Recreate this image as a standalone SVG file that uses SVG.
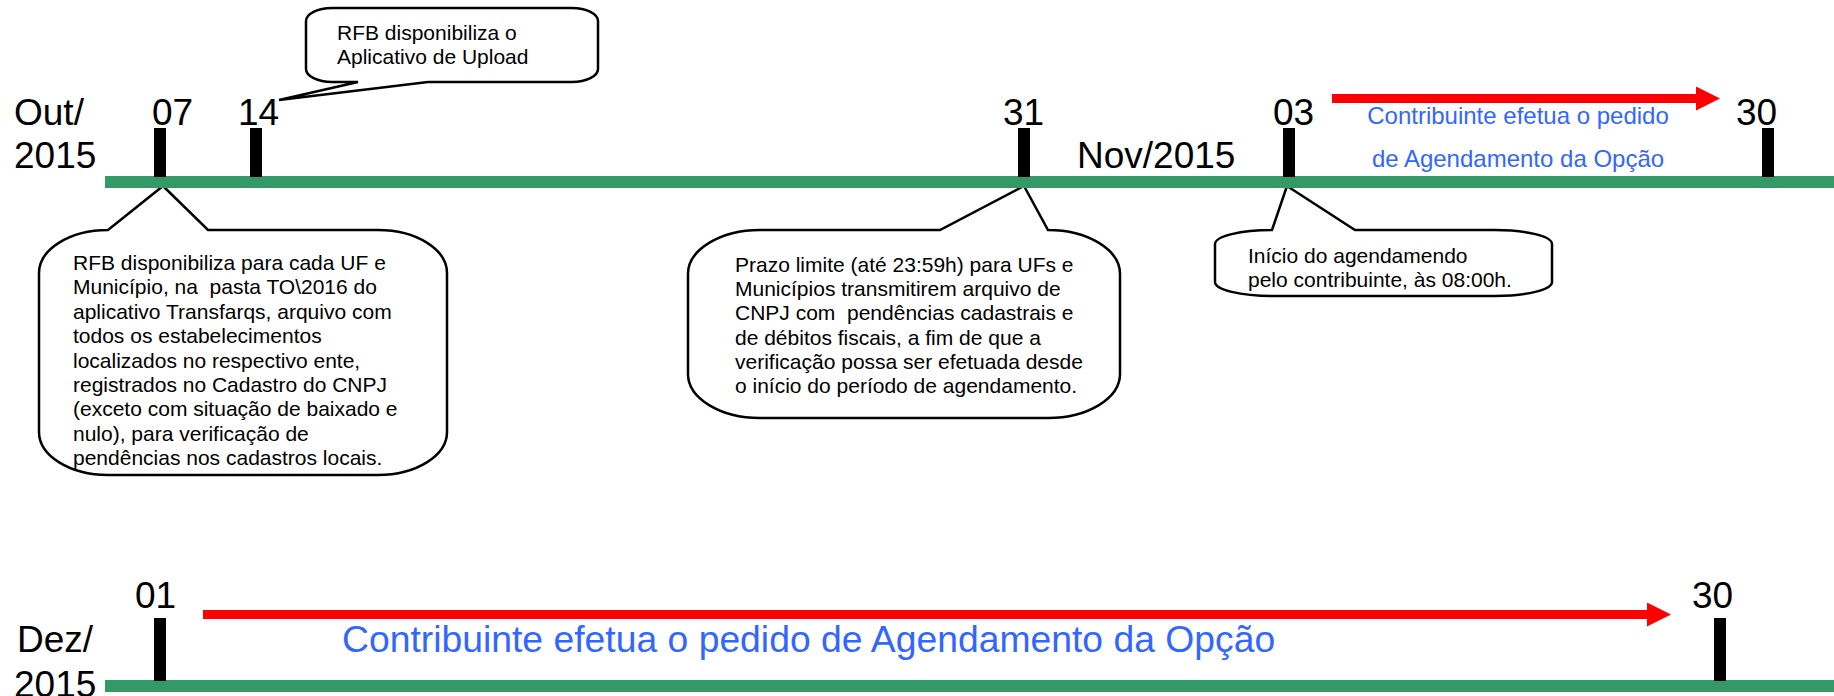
<svg xmlns="http://www.w3.org/2000/svg" width="1834" height="696" viewBox="0 0 1834 696">
<style>
.lbl{font-family:"Liberation Sans",Arial,sans-serif;font-size:37px;fill:#000}
.txt{font-family:"Liberation Sans",Arial,sans-serif;font-size:21px;fill:#000;white-space:pre}
.blue{font-family:"Liberation Sans",Arial,sans-serif;fill:#3366FF}
.bub{fill:#fff;stroke:#000;stroke-width:2.5;stroke-linejoin:miter}
.axis{fill:#339966}
.tick{fill:#000}
.arr{stroke:#FF0000;stroke-width:9;fill:none}
</style>
<defs>
<marker id="ah" markerUnits="userSpaceOnUse" markerWidth="24" markerHeight="24" refX="0" refY="12" orient="auto">
<path d="M0,0 L24,12 L0,24 Z" fill="#FF0000"/>
</marker>
</defs>
<rect width="1834" height="696" fill="#fff"/>

<g id="callout-upload">
<path class="bub" d="M279,100 L428,82 L572,82 A26,13 0 0 0 598,69 L598,21 A26,13 0 0 0 572,8 L332,8 A26,13 0 0 0 306,21 L306,69 A26,13 0 0 0 332,82 L358,82 Z"/>
<text class="txt" x="337" y="40">RFB disponibiliza o</text>
<text class="txt" x="337" y="64">Aplicativo de Upload</text>
</g>

<g id="callout-07">
<path class="bub" d="M163,186 L208,230 L378,230 A69,43 0 0 1 447,273 L447,432 A69,43 0 0 1 378,475 L108,475 A69,43 0 0 1 39,432 L39,273 A69,43 0 0 1 108,230 Z"/>
<text class="txt" x="73" y="270">RFB disponibiliza para cada UF e</text>
<text class="txt" x="73" y="294.4">Município, na  pasta TO\2016 do</text>
<text class="txt" x="73" y="318.8">aplicativo Transfarqs, arquivo com</text>
<text class="txt" x="73" y="343.2">todos os estabelecimentos</text>
<text class="txt" x="73" y="367.6">localizados no respectivo ente,</text>
<text class="txt" x="73" y="392">registrados no Cadastro do CNPJ</text>
<text class="txt" x="73" y="416.4">(exceto com situação de baixado e</text>
<text class="txt" x="73" y="440.8">nulo), para verificação de</text>
<text class="txt" x="73" y="465.2">pendências nos cadastros locais.</text>
</g>

<g id="callout-31">
<path class="bub" d="M1024,186 L1048,230 A72,44 0 0 1 1120,274 L1120,374 A72,44 0 0 1 1048,418 L760,418 A72,44 0 0 1 688,374 L688,274 A72,44 0 0 1 760,230 L940,230 Z"/>
<text class="txt" x="735" y="272">Prazo limite (até 23:59h) para UFs e</text>
<text class="txt" x="735" y="296.2">Municípios transmitirem arquivo de</text>
<text class="txt" x="735" y="320.4">CNPJ com  pendências cadastrais e</text>
<text class="txt" x="735" y="344.6">de débitos fiscais, a fim de que a</text>
<text class="txt" x="735" y="368.8">verificação possa ser efetuada desde</text>
<text class="txt" x="735" y="393">o início do período de agendamento.</text>
</g>

<g id="callout-03">
<path class="bub" d="M1287,186 L1355,230 L1495,230 A57,14 0 0 1 1552,244 L1552,282 A57,14 0 0 1 1495,296 L1272,296 A57,14 0 0 1 1215,282 L1215,244 A57,14 0 0 1 1272,230 Z"/>
<text class="txt" x="1248" y="263">Início do agendamendo</text>
<text class="txt" x="1248" y="287">pelo contribuinte, às 08:00h.</text>
</g>

<g id="timeline-nov">
<rect class="axis" x="105" y="176" width="1729" height="12"/>
<rect class="tick" x="154" y="128" width="12" height="49"/>
<rect class="tick" x="250" y="128" width="12" height="49"/>
<rect class="tick" x="1018" y="128" width="12" height="49"/>
<rect class="tick" x="1283" y="128" width="12" height="49"/>
<rect class="tick" x="1762" y="128" width="12" height="49"/>
<text class="lbl" x="14" y="125">Out/</text>
<text class="lbl" x="14" y="168">2015</text>
<text class="lbl" x="152" y="125">07</text>
<text class="lbl" x="238" y="125">14</text>
<text class="lbl" x="1003" y="125">31</text>
<text class="lbl" x="1273" y="125">03</text>
<text class="lbl" x="1077" y="168">Nov/2015</text>
<text class="lbl" x="1736" y="125">30</text>
<text class="blue" x="1518" y="124" font-size="24" text-anchor="middle">Contribuinte efetua o pedido</text>
<text class="blue" x="1518" y="167" font-size="24" text-anchor="middle">de Agendamento da Opção</text>
</g>

<g id="timeline-dez">
<rect class="axis" x="105" y="680" width="1729" height="12"/>
<rect class="tick" x="154" y="618" width="12" height="63"/>
<rect class="tick" x="1714" y="618" width="12" height="63"/>
<text class="lbl" x="17" y="652">Dez/</text>
<text class="lbl" x="14" y="697">2015</text>
<text class="lbl" x="135" y="608">01</text>
<text class="lbl" x="1692" y="608">30</text>
<text class="blue" x="342" y="652" font-size="37.3">Contribuinte efetua o pedido de Agendamento da Opção</text>
</g>

<g id="connectors">
<line class="arr" x1="1332" y1="98.5" x2="1696" y2="98.5" marker-end="url(#ah)"/>
<line class="arr" x1="203" y1="614.5" x2="1647" y2="614.5" marker-end="url(#ah)"/>
</g>
</svg>
